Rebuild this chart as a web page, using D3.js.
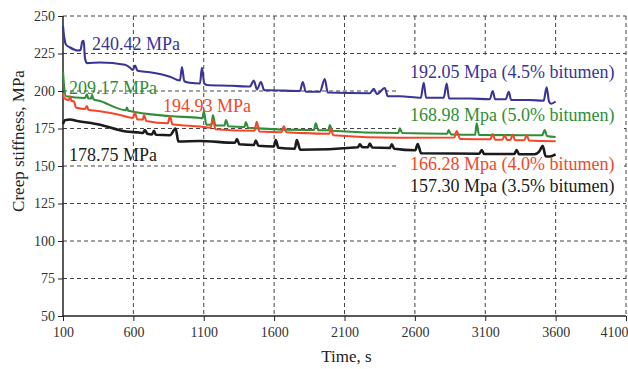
<!DOCTYPE html>
<html>
<head>
<meta charset="utf-8">
<script src="https://cdn.jsdelivr.net/npm/d3@7"></script>
<style>
  body { margin: 0; background: #fff; }
  text { font-family: "Liberation Serif", "Times New Roman", serif; }
  .grid line { stroke: #444; stroke-dasharray: 4,3; stroke-width: 1; }
  .axis path, .axis line { stroke: #222; }
  .axis text { font-size: 14px; fill: #333; }
</style>
</head>
<body>
<div id="chart"></div>
<script>
// ---- data (time in s, creep stiffness in MPa) ----
const xTicks = [100, 600, 1100, 1600, 2100, 2600, 3100, 3600, 4100];
const yTicks = [50, 75, 100, 125, 150, 175, 200, 225, 250];

// 4.5% bitumen
const blueData = [
  [100,243.5],[107,237],[121,231],[150,229],[207,227],[225,227.5],[237,233],[247,233.5],[256,222],
  [270,218.6],[363,219],[540,217.5],[576,215.5],[597,214],[611,217],[630,213.5],[718,212.5],
  [860,209.5],[931,207],[945,216],[962,206.5],[1002,205.5],[1073,205],[1087,215.5],[1104,205],
  [1122,204],[1300,203.5],[1428,203],[1456,207],[1478,201],[1506,206],[1530,200.5],[1570,200.5],
  [1783,200],[1804,206],[1825,199.5],[1925,199.5],[1960,208],[1981,199],[2280,198.5],[2308,201.5],
  [2330,198],[2386,202],[2408,196.5],[2493,196.5],[2642,195.5],[2663,205.5],[2680,195.5],
  [2805,195.5],[2826,205],[2843,195],[2990,195],[3132,194.5],[3153,200],[3170,194.5],[3245,194.5],
  [3267,199.5],[3284,194],[3416,194],[3515,193.5],[3536,202.5],[3553,193],[3568,191.5],[3600,193]
];

// 5.0% bitumen
const greenData = [
  [100,213],[107,204],[121,196.5],[256,195.3],[270,197.8],[280,195],[299,195],[306,197.5],[316,194.5],
  [363,193.3],[547,187.2],[554,189],[564,186.8],[860,183.3],[1073,182],[1090,181.8],[1101,186.5],
  [1118,177.5],[1155,177.5],[1165,184],[1183,177],[1247,177],[1258,180.7],[1275,176.5],[1389,176],
  [1399,179.3],[1416,175.5],[1854,174],[1882,174],[1896,178.4],[1914,173.8],[1985,173.8],[1996,177.3],
  [2013,173.5],[2482,172],[2493,175.1],[2510,172],[2830,171.5],[2840,174],[2858,171],[3028,170.8],
  [3039,178.4],[3056,170.7],[3505,170.5],[3522,174],[3539,170],[3600,169.3]
];

// 4.0% bitumen
const redData = [
  [100,198.5],[107,195.5],[121,194.5],[143,194],[150,196.5],[160,193.5],[178,193],[192,189],[256,188],
  [270,190],[280,187.5],[363,186.5],[505,184],[597,182],[611,185.5],[628,181],[668,181],[675,184],
  [692,180],[845,178.5],[860,183.5],[877,177.8],[1073,176.3],[1148,175.5],[1165,181],[1183,174.5],
  [1460,173.5],[1477,179.5],[1495,173],[1652,172.5],[1669,176.5],[1686,172.5],[1854,171.8],
  [1992,171.5],[2003,175],[2020,170.5],[2493,168.8],[2880,169],[2897,173.3],[2922,168],[3136,167.8],
  [3153,171.3],[3170,167.5],[3221,167.5],[3238,170.5],[3255,167.3],[3278,167.3],[3295,171],
  [3312,167.2],[3377,167.2],[3394,170.5],[3412,167],[3600,166.5]
];

// 3.5% bitumen
const blackData = [
  [100,178],[114,180.5],[150,181],[185,180.3],[363,177.5],[547,173],[640,172.3],[668,172],
  [682,174],[699,171.5],[732,171],[746,173.5],[760,170.8],[860,170.5],[900,175],[920,166.3],[1073,166.7],
  [1322,165.5],[1336,168],[1353,164.5],[1456,164],[1470,167],[1488,163.5],[1598,163],[1612,167.3],
  [1630,162.2],[1747,161.5],[1761,167.3],[1786,160.8],[2195,162.5],[2209,164.5],[2227,162.5],
  [2266,162.5],[2280,165],[2297,162.3],[2422,162],[2436,164.5],[2453,161.5],[2603,160.5],
  [2620,164.7],[2645,158.5],[3058,158.2],[3075,160.7],[3092,158],[3306,158],[3323,160.7],
  [3340,157.8],[3451,157.8],[3486,160],[3508,163.5],[3529,156.5],[3557,156.3],[3600,157.8]
];

const seriesNames = ["4.5%", "5.0%", "4.0%", "3.5%"];
const seriesColors = ["#3a3497", "#2f8f36", "#f2472a", "#1b1b1b"];

const startLabels = ["240.42 MPa", "209.17 MPa", "194.93 MPa", "178.75 MPa"];
const endLabels = [
  "192.05 Mpa (4.5% bitumen)",
  "168.98 Mpa (5.0% bitumen)",
  "166.28 Mpa (4.0% bitumen)",
  "157.30 Mpa (3.5% bitumen)"
];

// ---- layout ----
const W = 628, H = 369;
const margin = {top: 16, right: 2, bottom: 53, left: 63};
const width = W - margin.left - margin.right;
const height = H - margin.top - margin.bottom;

const svg = d3.select("#chart").append("svg")
    .attr("width", W)
    .attr("height", H);

const g = svg.append("g")
    .attr("transform", "translate(" + margin.left + "," + margin.top + ")");

const x = d3.scaleLinear().domain([100, 4100]).range([0, width]);
const y = d3.scaleLinear().domain([50, 250]).range([height, 0]);

// gridlines
const grid = g.append("g").attr("class", "grid");
grid.selectAll(".gx")
    .data(xTicks.slice(1))
    .enter().append("line")
    .attr("x1", d => x(d)).attr("x2", d => x(d))
    .attr("y1", 0).attr("y2", height);
grid.selectAll(".gy")
    .data(yTicks.slice(1))
    .enter().append("line")
    .attr("x1", 0).attr("x2", width)
    .attr("y1", d => y(d)).attr("y2", d => y(d));

// white box behind the right-hand labels
g.append("rect")
    .attr("x", x(2600) - 17)
    .attr("y", y(223.5))
    .attr("width", x(4100) - x(2600) + 15)
    .attr("height", y(127) - y(223.5))
    .attr("fill", "#fff");

// axes
const xAxis = d3.axisBottom(x).tickValues(xTicks).tickSize(5).tickPadding(6).tickFormat(d3.format("d"));
const yAxis = d3.axisLeft(y).tickValues(yTicks).tickSize(5).tickPadding(3);

g.append("g")
    .attr("class", "axis x-axis")
    .attr("transform", "translate(0," + height + ")")
    .call(xAxis)
    .call(a => a.select(".domain").attr("stroke-width", 1.5).attr("d", "M0,0H" + width))
    .call(a => a.selectAll(".tick text").filter(d => d === 4100)
        .attr("text-anchor", "end").attr("x", 2));

g.append("g")
    .attr("class", "axis y-axis")
    .call(yAxis)
    .call(a => a.select(".domain").attr("stroke-width", 1.5).attr("d", "M0," + height + "V0"));

// lines
const line = d3.line()
    .curve(d3.curveMonotoneX)
    .x(d => x(d[0]))
    .y(d => y(d[1]));

const allData = [blueData, greenData, redData, blackData];
g.selectAll(".series")
    .data(allData)
    .enter().append("path")
    .attr("class", "series")
    .attr("d", d => line(d))
    .attr("fill", "none")
    .attr("stroke", (d, i) => seriesColors[i])
    .attr("stroke-width", (d, i) => i === 3 ? 2.6 : 2.1)
    .attr("stroke-linejoin", "round");

// labels near the start of each curve
const startPos = [[92, 50], [69, 94], [163, 111.5], [69, 161]];
svg.selectAll(".start-label")
    .data(startLabels)
    .enter().append("text")
    .attr("class", "start-label")
    .attr("x", (d, i) => startPos[i][0])
    .attr("y", (d, i) => startPos[i][1])
    .attr("fill", (d, i) => seriesColors[i])
    .style("font-size", "18px")
    .text(d => d);

// labels at the end of each curve
const endY = [78.3, 121, 170, 192];
svg.selectAll(".end-label")
    .data(endLabels)
    .enter().append("text")
    .attr("class", "end-label")
    .attr("x", 410)
    .attr("y", (d, i) => endY[i])
    .attr("fill", (d, i) => seriesColors[i])
    .style("font-size", "18px")
    .text(d => d);

// axis titles
svg.append("text")
    .attr("x", margin.left + width / 2 + 2)
    .attr("y", 362)
    .attr("text-anchor", "middle")
    .style("font-size", "17px")
    .attr("fill", "#222")
    .text("Time, s");

svg.append("text")
    .attr("transform", "translate(24,141) rotate(-90)")
    .attr("text-anchor", "middle")
    .style("font-size", "17px")
    .attr("fill", "#222")
    .text("Creep stiffness, MPa");
</script>
</body>
</html>
